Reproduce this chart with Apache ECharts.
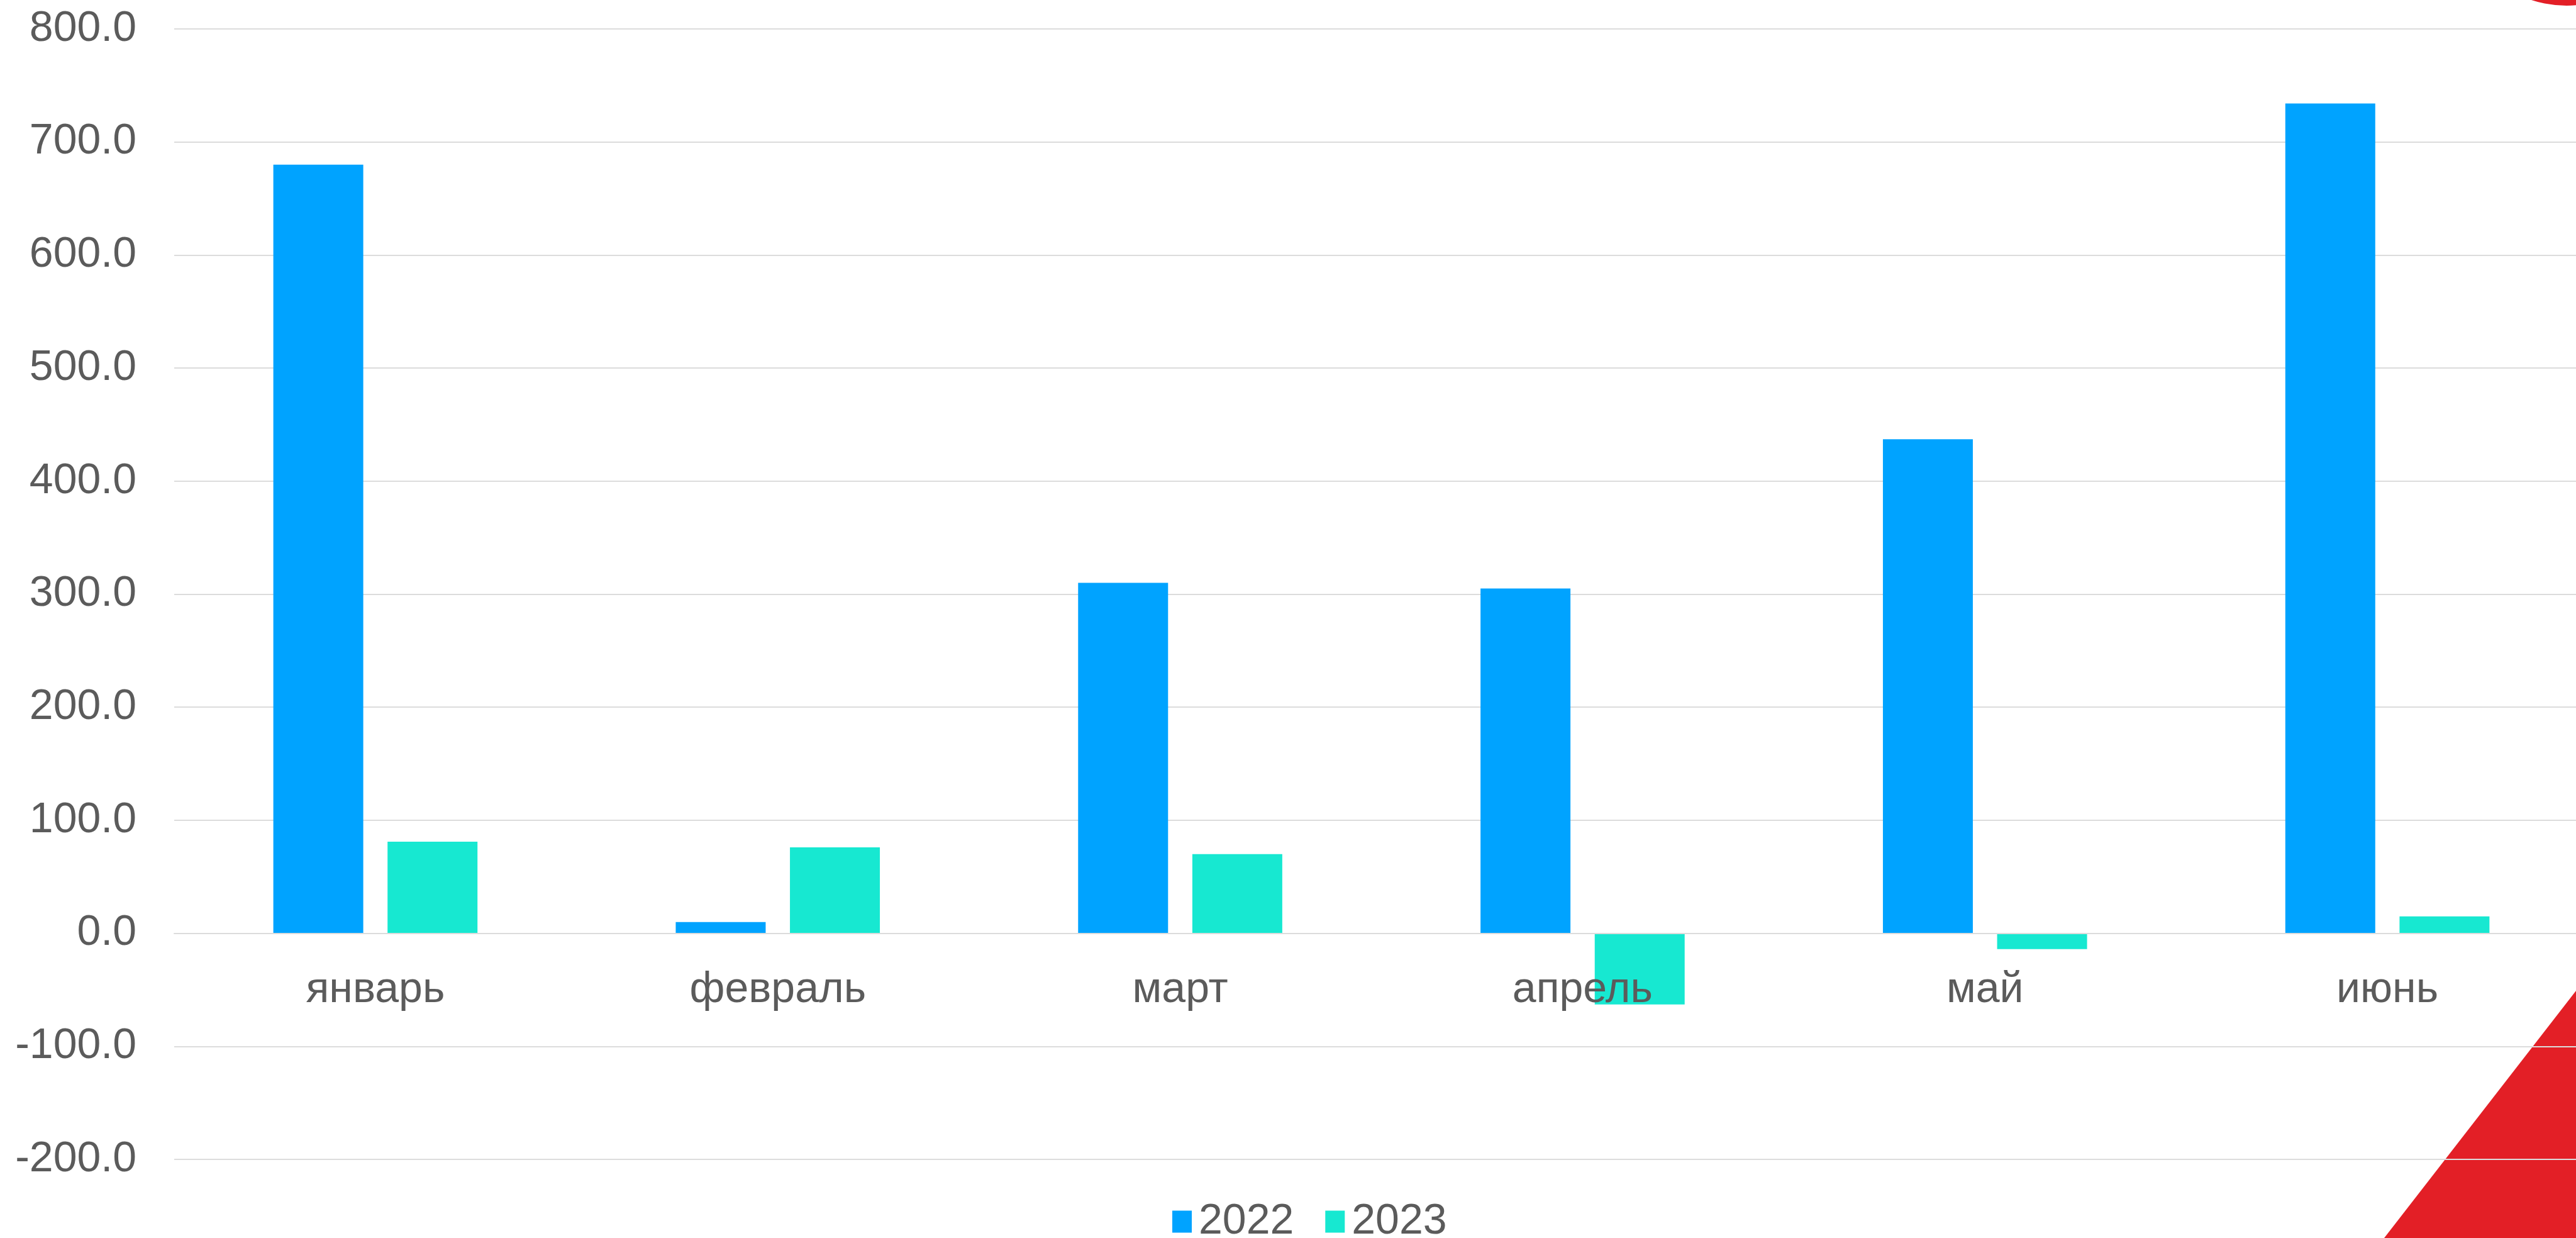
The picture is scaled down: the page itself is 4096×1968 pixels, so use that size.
<!DOCTYPE html>
<html>
<head>
<meta charset="utf-8">
<style>
  html, body { margin: 0; padding: 0; background: #ffffff; }
  #chart { width: 4096px; height: 1968px; }
</style>
<script src="https://cdn.jsdelivr.net/npm/echarts@6/dist/echarts.min.js"></script>
</head>
<body>
<div id="chart"></div>
<script>
// Monthly values, 2022 vs 2023
const months = ['январь', 'февраль', 'март', 'апрель', 'май', 'июнь'];
const values2022 = [680, 10, 310, 305, 437, 734];
const values2023 = [81, 76, 70, -63, -14, 15];
const seriesNames = ['2022', '2023'];
const yTicks = { min: -200, max: 800, step: 100 };

const FONT = "'Liberation Sans', Arial, Helvetica, sans-serif";
const TEXT = '#5b5b5b';
const GRIDLINE = '#dcdcdc';
const BLUE = '#00a3ff';
const TEAL = '#17e8d1';
const RED = '#e31f26';

const W = 4096, H = 1968;
const GRID = { left: 277, top: 46, right: -20, bottom: 125 };
// distance from the bottom of the plot up to the zero line
const plotHeight = H - GRID.top - GRID.bottom;
const zeroLift = plotHeight * (0 - yTicks.min) / (yTicks.max - yTicks.min);

const chart = echarts.init(document.getElementById('chart'), null, { renderer: 'canvas' });

chart.setOption({
  backgroundColor: '#ffffff',
  animation: false,
  textStyle: { fontFamily: FONT },
  grid: Object.assign({ containLabel: false, outerBoundsMode: 'none' }, GRID),
  legend: {
    data: seriesNames,
    left: 1859,
    top: 1903,
    itemWidth: 31,
    itemHeight: 35,
    itemGap: 50,
    icon: 'rect',
    textStyle: { color: TEXT, fontSize: 68, fontFamily: FONT, padding: [0, 0, 0, 6] }
  },
  xAxis: {
    type: 'category',
    data: months,
    z: 3,
    position: 'bottom',
    offset: -zeroLift,
    axisLine: { show: true, onZero: false, lineStyle: { color: GRIDLINE, width: 2 } },
    axisTick: { show: false },
    axisLabel: { color: TEXT, fontSize: 68, fontFamily: FONT, margin: 57 },
    splitLine: { show: false }
  },
  yAxis: {
    type: 'value',
    min: yTicks.min,
    max: yTicks.max,
    interval: yTicks.step,
    axisLine: { show: false },
    axisTick: { show: false },
    axisLabel: {
      color: TEXT, fontSize: 68, fontFamily: FONT, margin: 60,
      formatter: v => v.toFixed(1)
    },
    splitLine: { lineStyle: { color: GRIDLINE, width: 2 } }
  },
  series: [
    {
      name: seriesNames[0], type: 'bar', data: values2022,
      barWidth: 143, barGap: '27%',
      itemStyle: { color: BLUE }
    },
    {
      name: seriesNames[1], type: 'bar', data: values2023,
      barWidth: 143, barGap: '27%',
      itemStyle: { color: TEAL }
    }
  ],
  graphic: [
    // corner decorations
    {
      type: 'polygon', z: -1, silent: true,
      shape: { points: [[W, 1575], [W, H], [3791, H]] },
      style: { fill: RED }
    },
    {
      type: 'circle', z: -1, silent: true,
      shape: { cx: 4081, cy: -170, r: 179 },
      style: { fill: RED }
    }
  ]
});
</script>
</body>
</html>
